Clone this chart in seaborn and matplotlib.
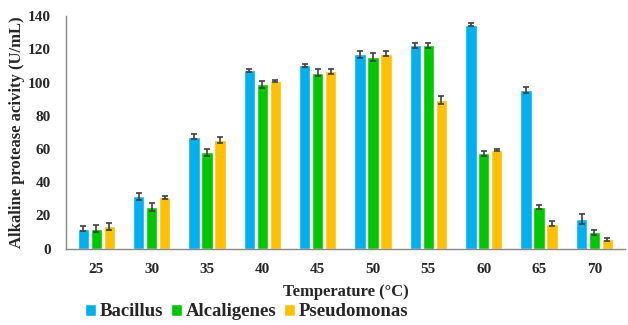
import pandas as pd
import numpy as np
import matplotlib.pyplot as plt
import seaborn as sns

# ─── DATA ─────────────────────────────────────────────────────────────────────
temps = ["25", "30", "35", "40", "45", "50", "55", "60", "65", "70"]
strains = ["Bacillus", "Alcaligenes", "Pseudomonas"]
bacillus = [12, 31.5, 67.5, 107.5, 110.5, 117, 122.5, 135, 95.5, 18]
alcaligenes = [12, 25, 58, 99, 106, 115.5, 122.5, 57.5, 25, 10]
pseudomonas = [13.5, 31, 65.5, 101, 107, 117.5, 89.5, 59.5, 15, 5.5]
err_bacillus = [1.5, 2, 1.5, 1, 1, 2, 1.5, 1, 2, 3]
err_alcaligenes = [2, 2.5, 2, 2, 2, 2.5, 1.5, 1.5, 1, 1.5]
err_pseudomonas = [2, 1, 2, 0.5, 1.5, 1.5, 2.5, 0.5, 1.5, 1]
colors = ["#00B0F0", "#00C800", "#FFC000"]

df = pd.DataFrame({
    "Temperature": temps * 3,
    "Strain": np.repeat(strains, len(temps)),
    "Activity": bacillus + alcaligenes + pseudomonas,
    "Err": err_bacillus + err_alcaligenes + err_pseudomonas,
})

# ─── PLOT ─────────────────────────────────────────────────────────────────────
sns.set_style("white")
SERIF = ["Liberation Serif", "DejaVu Serif"]
plt.rcParams["font.family"] = SERIF
plt.rcParams["font.weight"] = "bold"

fig, ax = plt.subplots(figsize=(6.28, 3.25), dpi=100)
sns.barplot(data=df, x="Temperature", y="Activity", hue="Strain",
            hue_order=strains, palette=colors, saturation=1, width=0.7, gap=0.12,
            errorbar=None, ax=ax)

# error bars from bar centres (patches are ordered hue-by-hue)
for p, e in zip(ax.patches[:len(df)], df["Err"]):
    x = p.get_x() + p.get_width() / 2
    ax.errorbar(x, p.get_height(), yerr=e, color="#404040", capsize=2.5,
                elinewidth=1.2, capthick=1.2, fmt="none")

ax.set_ylim(0, 140)
ax.set_yticks(range(0, 141, 20))
ax.set_xlim(-0.55, 9.55)
ax.set_xlabel("Temperature (°C)", fontsize=12, fontweight="bold", labelpad=6)
ax.set_ylabel("Alkaline protease acivity (U/mL)", fontsize=12, fontweight="bold",
              labelpad=2)
ax.tick_params(axis="both", labelsize=11, length=0)
for lab in ax.get_xticklabels() + ax.get_yticklabels():
    lab.set_fontweight("bold")
ax.tick_params(axis="x", pad=10)
ax.tick_params(axis="y", pad=11)
sns.despine(ax=ax, top=True, right=True)
for s in ["left", "bottom"]:
    ax.spines[s].set_color("#888888")
    ax.spines[s].set_linewidth(1)

ax.legend(loc="lower center", bbox_to_anchor=(0.393, 0.014),
          bbox_transform=fig.transFigure, ncol=3, borderaxespad=0,
          frameon=False, handlelength=0.6, handleheight=0.6,
          handletextpad=0.2, columnspacing=0.4, borderpad=0.0,
          prop={"family": SERIF, "weight": "bold", "size": 13.5})

fig.subplots_adjust(left=0.105, right=0.995, top=0.95, bottom=0.235)
fig.savefig("out.png", dpi=100)
